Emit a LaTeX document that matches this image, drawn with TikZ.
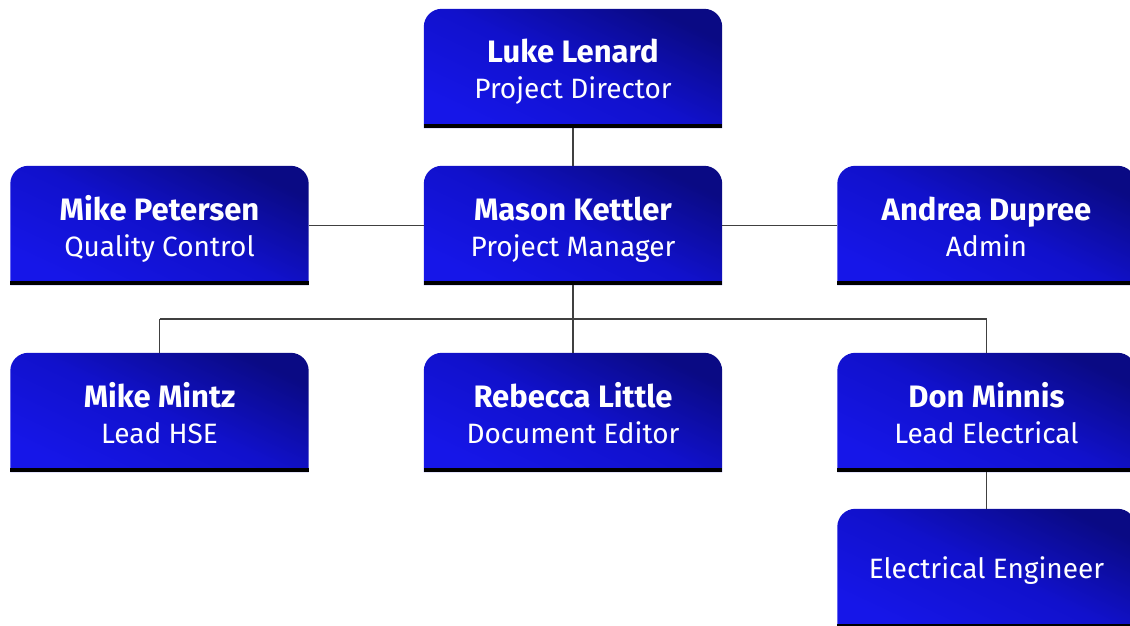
\documentclass[tikz,border=0pt]{standalone}
\usepackage{fontspec}
\setmainfont{Fira Sans}
\usetikzlibrary{backgrounds}

\definecolor{boxlight}{HTML}{1616E8}
\definecolor{boxmid}{HTML}{1111CC}
\definecolor{boxdark}{HTML}{0A0A84}

\tikzset{
  orgbox/.style={minimum width=298pt, minimum height=119pt, inner sep=0pt,
    text=white, align=center, font=\fontsize{28}{36}\selectfont},
  boxshade/.style={top color=boxdark, bottom color=boxlight, middle color=boxmid,
    shading angle=-25},
  link/.style={draw=black!75, line width=1.5pt}
}
\newcommand{\who}[1]{{\fontsize{31}{36}\selectfont\bfseries\rule{0pt}{32pt}#1}}
\newcommand{\role}[1]{#1\rule[-7pt]{0pt}{7pt}}

\begin{document}
\begin{tikzpicture}[x=1pt,y=1pt]
  \useasboundingbox (0,0) rectangle (1130,-626);

  \begin{scope}[every node/.style={orgbox}]
    \node (lenard)   at (573,-68.5)   {\who{Luke Lenard}\\\role{Project Director}};
    \node (petersen) at (159.5,-225.5) {\who{Mike Petersen}\\\role{Quality Control}};
    \node (kettler)  at (573,-225.5)  {\who{Mason Kettler}\\\role{Project Manager}};
    \node (dupree)   at (986.5,-225.5) {\who{Andrea Dupree}\\\role{Admin}};
    \node (mintz)    at (159.5,-412.5) {\who{Mike Mintz}\\\role{Lead HSE}};
    \node (little)   at (573,-412.5)  {\who{Rebecca Little}\\\role{Document Editor}};
    \node (minnis)   at (986.5,-412.5) {\who{Don Minnis}\\\role{Lead Electrical}};
    \node (engineer) at (986.5,-568.5) {\rule{0pt}{26pt}Electrical Engineer};
  \end{scope}

  % box bodies: rounded on top, flat black edge below
  \begin{scope}[on background layer]
    \foreach \n in {lenard,petersen,kettler,dupree,mintz,little,minnis,engineer}{
      \shade[boxshade] (\n.south west) -- ([yshift=-18pt]\n.north west)
        arc[start angle=180, end angle=90, radius=18pt]
        -- ([xshift=-18pt]\n.north east)
        arc[start angle=90, end angle=0, radius=18pt]
        -- (\n.south east) -- cycle;
      \draw[line width=4pt] ([yshift=2pt]\n.south west) -- ([yshift=2pt]\n.south east);
    }
  \end{scope}

  \coordinate (split)  at (573,-319);
  \coordinate (splitl) at (mintz |- split);
  \coordinate (splitr) at (minnis |- split);

  \begin{scope}[every edge/.style={link}]
    \path (lenard)   edge (kettler);
    \path (petersen) edge (kettler);
    \path (kettler)  edge (dupree);
    \path (kettler)  edge (split);
    \path (splitl)   edge (splitr);
    \path (splitl)   edge (mintz);
    \path (split)    edge (little);
    \path (splitr)   edge (minnis);
    \path (minnis)   edge (engineer);
  \end{scope}

\end{tikzpicture}
\end{document}
